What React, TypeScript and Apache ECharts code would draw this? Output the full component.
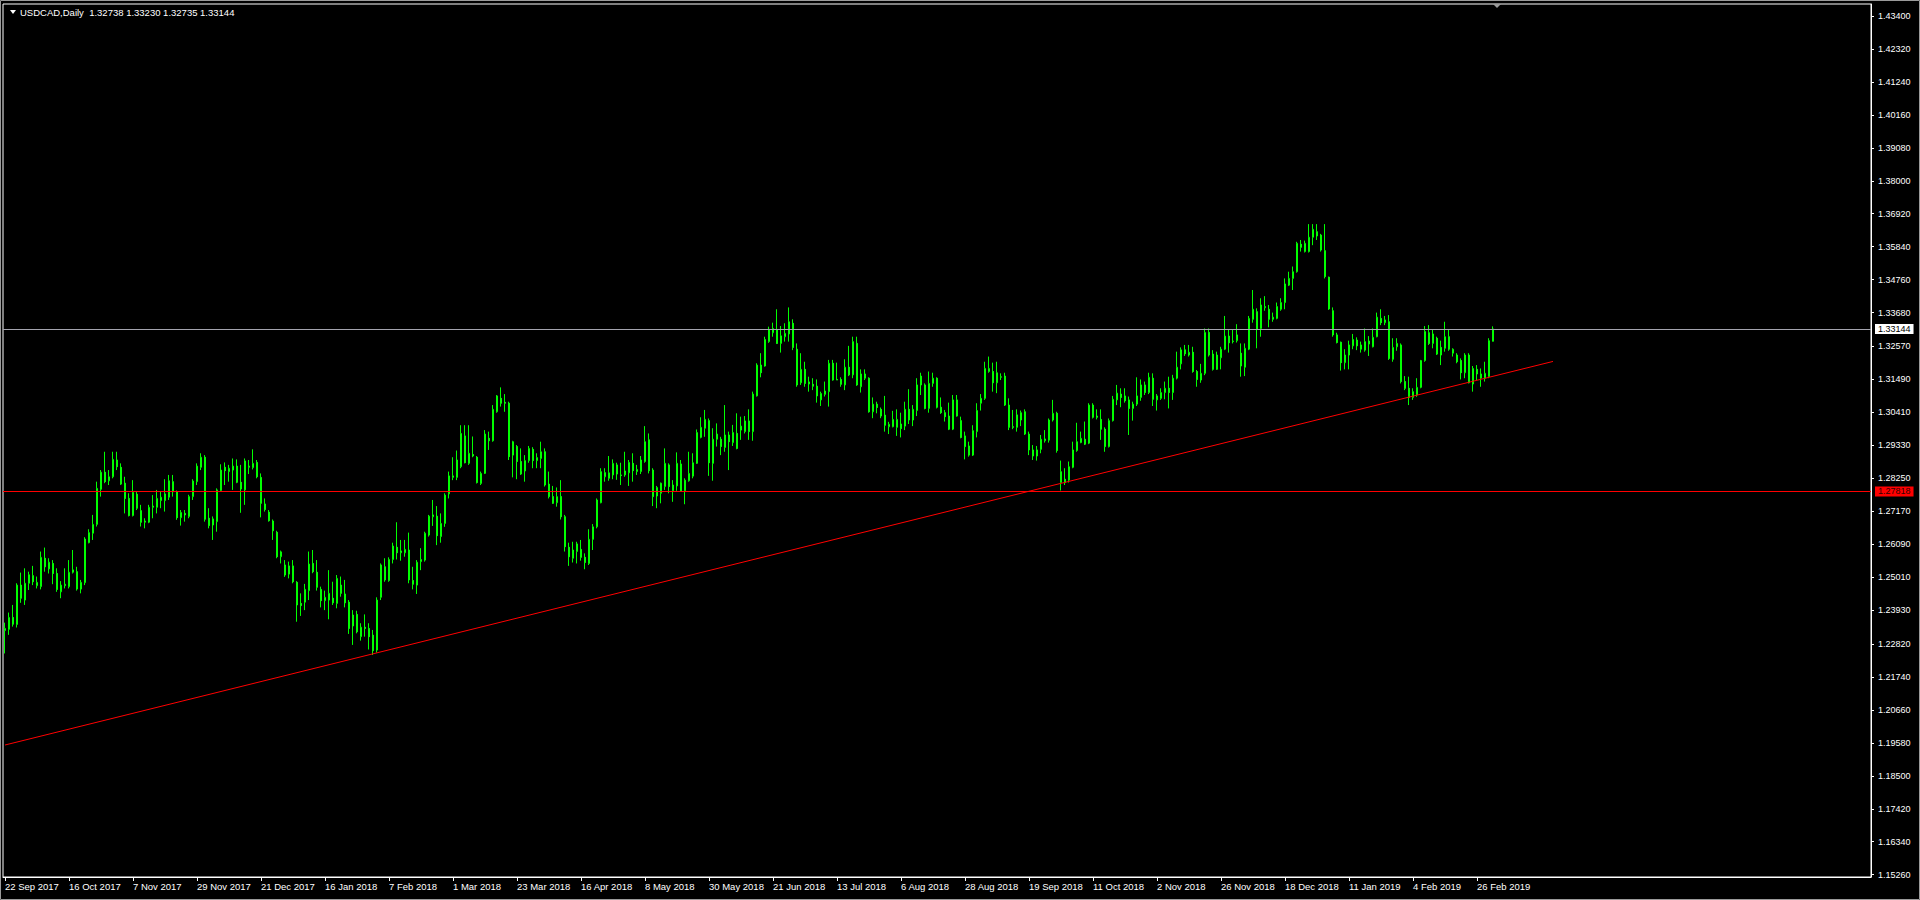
import React, { useEffect, useRef } from "react";
import * as echarts from "echarts";

// ---------- DATA ----------
const symbolTitle = "USDCAD,Daily";
const startDate = [2017, 9, 22]; // first visible bar (y, m, d)
const skippedDays = ["12-25", "01-01"]; // market closed
const totalSlots = 467; // bars that fit in the window incl. chart shift
const labelEvery = 16;

const opens = [
  1.2326,1.2330,1.2369,1.2346,1.2475,1.2426,1.2481,1.2506,1.2473,1.2470,
  1.2563,1.2528,1.2546,1.2513,1.2453,1.2473,1.2470,1.2517,1.2519,1.2462,
  1.2483,1.2614,1.2645,1.2674,1.2789,1.2845,1.2817,1.2830,1.2885,1.2861,
  1.2809,1.2759,1.2703,1.2773,1.2719,1.2681,1.2681,1.2730,1.2730,1.2752,
  1.2752,1.2763,1.2814,1.2781,1.2696,1.2710,1.2700,1.2765,1.2814,1.2861,
  1.2894,1.2694,1.2672,1.2683,1.2785,1.2861,1.2847,1.2852,1.2865,1.2812,
  1.2787,1.2861,1.2860,1.2877,1.2828,1.2741,1.2714,1.2685,1.2648,1.2568,
  1.2541,1.2511,1.2538,1.2484,1.2415,1.2419,1.2457,1.2546,1.2517,1.2461,
  1.2424,1.2426,1.2432,1.2415,1.2475,1.2446,1.2419,1.2341,1.2379,1.2306,
  1.2337,1.2333,1.2311,1.2262,1.2435,1.2535,1.2490,1.2559,1.2599,1.2581,
  1.2581,1.2590,1.2490,1.2475,1.2552,1.2557,1.2639,1.2699,1.2701,1.2634,
  1.2677,1.2774,1.2828,1.2828,1.2863,1.2964,1.2874,1.2903,1.2894,1.2808,
  1.2841,1.2956,1.2948,1.3043,1.3087,1.3074,1.3071,1.2901,1.2929,1.2880,
  1.2849,1.2883,1.2920,1.2883,1.2890,1.2912,1.2806,1.2765,1.2745,1.2765,
  1.2699,1.2599,1.2563,1.2585,1.2592,1.2566,1.2546,1.2625,1.2666,1.2745,
  1.2830,1.2825,1.2836,1.2869,1.2836,1.2836,1.2843,1.2874,1.2847,1.2847,
  1.2880,1.2951,1.2852,1.2767,1.2776,1.2798,1.2869,1.2784,1.2800,1.2872,
  1.2784,1.2817,1.2832,1.2874,1.2959,1.2989,1.3014,1.2874,1.2953,1.2953,
  1.2926,1.2967,1.2942,1.2972,1.2983,1.2978,1.3013,1.2978,1.3095,1.3196,
  1.3193,1.3273,1.3302,1.3311,1.3267,1.3289,1.3298,1.3333,1.3248,1.3138,
  1.3182,1.3141,1.3133,1.3127,1.3082,1.3100,1.3109,1.3202,1.3149,1.3149,
  1.3131,1.3189,1.3164,1.3267,1.3125,1.3153,1.3153,1.3043,1.3068,1.3051,
  1.3032,1.2994,1.2994,1.2992,1.3003,1.2996,1.3051,1.3016,1.3047,1.3160,
  1.3131,1.3054,1.3136,1.3153,1.3058,1.3040,1.3029,1.2986,1.3082,1.3014,
  1.2964,1.2901,1.2901,1.2978,1.3071,1.3087,1.3175,1.3175,1.3138,1.3156,
  1.3160,1.3065,1.2994,1.2992,1.3016,1.3043,1.2970,1.2898,1.2918,1.2920,
  1.2948,1.2950,1.3016,1.3038,1.2811,1.2822,1.2819,1.2861,1.2916,1.2942,
  1.2953,1.2940,1.3065,1.3029,1.3018,1.2986,1.2929,1.3014,1.3082,1.3101,
  1.3095,1.3082,1.3054,1.3068,1.3090,1.3131,1.3106,1.3153,1.3082,1.3087,
  1.3106,1.3120,1.3106,1.3153,1.3200,1.3246,1.3229,1.3238,1.3175,1.3147,
  1.3169,1.3303,1.3232,1.3182,1.3220,1.3248,1.3291,1.3273,1.3276,1.3235,
  1.3189,1.3248,1.3346,1.3371,1.3316,1.3384,1.3379,1.3346,1.3349,1.3379,
  1.3401,1.3458,1.3480,1.3502,1.3592,1.3568,1.3568,1.3615,1.3633,1.3622,
  1.3571,1.3484,1.3374,1.3295,1.3271,1.3204,1.3229,1.3259,1.3278,1.3248,
  1.3245,1.3265,1.3256,1.3289,1.3349,1.3335,1.3338,1.3215,1.3256,1.3262,
  1.3142,1.3120,1.3090,1.3098,1.3123,1.3211,1.3302,1.3267,1.3284,1.3254,
  1.3251,1.3289,1.3235,1.3229,1.3211,1.3171,1.3229,1.3134,1.3182,1.3153,
  1.3153,1.3158,1.32738,
];

const highs = [
  1.2352,1.2385,1.2410,1.2481,1.2516,1.2530,1.2519,1.2538,1.2503,1.2585,
  1.2598,1.2563,1.2557,1.2530,1.2488,1.2530,1.2557,1.2590,1.2535,1.2492,
  1.2632,1.2658,1.2705,1.2814,1.2852,1.2912,1.2852,1.2912,1.2912,1.2874,
  1.2830,1.2776,1.2819,1.2781,1.2738,1.2694,1.2738,1.2770,1.2787,1.2781,
  1.2822,1.2836,1.2836,1.2785,1.2721,1.2721,1.2771,1.2822,1.2874,1.2907,
  1.2901,1.2727,1.2700,1.2792,1.2871,1.2877,1.2869,1.2890,1.2887,1.2869,
  1.2890,1.2885,1.2920,1.2885,1.2841,1.2759,1.2721,1.2690,1.2653,1.2588,
  1.2557,1.2552,1.2557,1.2488,1.2448,1.2479,1.2585,1.2590,1.2557,1.2470,
  1.2457,1.2524,1.2486,1.2508,1.2503,1.2492,1.2426,1.2393,1.2391,1.2350,
  1.2379,1.2350,1.2328,1.2435,1.2546,1.2563,1.2566,1.2614,1.2681,1.2623,
  1.2623,1.2647,1.2535,1.2557,1.2596,1.2650,1.2705,1.2754,1.2734,1.2710,
  1.2776,1.2847,1.2894,1.2916,1.2999,1.2999,1.2999,1.2962,1.2898,1.2847,
  1.2983,1.2978,1.3065,1.3098,1.3123,1.3101,1.3076,1.2948,1.2934,1.2923,
  1.2901,1.2931,1.2927,1.2907,1.2945,1.2923,1.2847,1.2800,1.2795,1.2819,
  1.2705,1.2614,1.2617,1.2617,1.2623,1.2579,1.2658,1.2675,1.2759,1.2858,
  1.2858,1.2898,1.2887,1.2876,1.2876,1.2912,1.2885,1.2907,1.2869,1.2898,
  1.2996,1.2972,1.2858,1.2800,1.2811,1.2923,1.2874,1.2819,1.2910,1.2885,
  1.2825,1.2912,1.2907,1.2985,1.3025,1.3049,1.3021,1.2989,1.3005,1.2961,
  1.3065,1.2978,1.3000,1.3038,1.3027,1.3029,1.3051,1.3109,1.3202,1.3235,
  1.3289,1.3322,1.3335,1.3379,1.3324,1.3333,1.3385,1.3346,1.3267,1.3235,
  1.3207,1.3158,1.3153,1.3149,1.3109,1.3142,1.3213,1.3213,1.3204,1.3156,
  1.3215,1.3259,1.3289,1.3289,1.3182,1.3182,1.3156,1.3090,1.3076,1.3057,
  1.3095,1.3010,1.3046,1.3051,1.3040,1.3076,1.3117,1.3065,1.3153,1.3171,
  1.3136,1.3175,1.3171,1.3156,1.3090,1.3049,1.3073,1.3098,1.3098,1.3027,
  1.2978,1.2945,1.2999,1.3071,1.3101,1.3207,1.3224,1.3204,1.3207,1.3169,
  1.3171,1.3087,1.3049,1.3051,1.3047,1.3051,1.2978,1.2934,1.2931,1.2967,
  1.2983,1.3021,1.3082,1.3043,1.2883,1.2858,1.2880,1.2945,1.3007,1.2978,
  1.3011,1.3071,1.3071,1.3051,1.3051,1.2992,1.3021,1.3095,1.3131,1.3120,
  1.3120,1.3093,1.3076,1.3156,1.3149,1.3142,1.3171,1.3169,1.3101,1.3120,
  1.3142,1.3158,1.3164,1.3240,1.3254,1.3262,1.3262,1.3256,1.3180,1.3200,
  1.3316,1.3316,1.3245,1.3240,1.3256,1.3357,1.3313,1.3311,1.3330,1.3267,
  1.3267,1.3357,1.3442,1.3382,1.3415,1.3422,1.3393,1.3368,1.3401,1.3415,
  1.3480,1.3502,1.3519,1.3600,1.3606,1.3604,1.3658,1.3658,1.3658,1.3626,
  1.3658,1.3486,1.3385,1.3302,1.3273,1.3248,1.3276,1.3298,1.3287,1.3273,
  1.3316,1.3291,1.3316,1.3368,1.3379,1.3357,1.3360,1.3284,1.3284,1.3267,
  1.3160,1.3158,1.3120,1.3153,1.3213,1.3324,1.3327,1.3313,1.3289,1.3276,
  1.3338,1.3311,1.3251,1.3235,1.3218,1.3235,1.3235,1.3193,1.3196,1.3185,
  1.3207,1.3284,1.33230,
];

const lows = [
  1.2251,1.2312,1.2339,1.2336,1.2417,1.2410,1.2459,1.2475,1.2464,1.2461,
  1.2519,1.2513,1.2478,1.2453,1.2432,1.2464,1.2464,1.2513,1.2457,1.2448,
  1.2475,1.2612,1.2623,1.2667,1.2765,1.2809,1.2803,1.2825,1.2852,1.2803,
  1.2710,1.2700,1.2700,1.2721,1.2667,1.2661,1.2678,1.2694,1.2710,1.2727,
  1.2716,1.2754,1.2765,1.2689,1.2670,1.2683,1.2694,1.2754,1.2803,1.2852,
  1.2683,1.2661,1.2623,1.2650,1.2781,1.2803,1.2814,1.2787,1.2809,1.2712,
  1.2738,1.2839,1.2854,1.2825,1.2697,1.2716,1.2683,1.2623,1.2563,1.2546,
  1.2502,1.2497,1.2481,1.2355,1.2374,1.2393,1.2426,1.2514,1.2457,1.2402,
  1.2393,1.2363,1.2410,1.2399,1.2437,1.2402,1.2315,1.2279,1.2317,1.2293,
  1.2306,1.2264,1.2246,1.2254,1.2426,1.2486,1.2486,1.2546,1.2559,1.2555,
  1.2568,1.2481,1.2461,1.2446,1.2524,1.2552,1.2634,1.2669,1.2606,1.2614,
  1.2666,1.2759,1.2819,1.2819,1.2858,1.2874,1.2869,1.2894,1.2808,1.2803,
  1.2839,1.2918,1.2945,1.3040,1.3060,1.3043,1.2885,1.2828,1.2822,1.2836,
  1.2814,1.2876,1.2858,1.2858,1.2858,1.2798,1.2759,1.2741,1.2732,1.2690,
  1.2585,1.2538,1.2549,1.2546,1.2555,1.2527,1.2541,1.2590,1.2661,1.2743,
  1.2814,1.2817,1.2822,1.2820,1.2803,1.2830,1.2800,1.2814,1.2836,1.2839,
  1.2876,1.2841,1.2734,1.2727,1.2743,1.2787,1.2776,1.2748,1.2784,1.2781,
  1.2740,1.2814,1.2825,1.2872,1.2956,1.2961,1.2833,1.2817,1.2929,1.2901,
  1.2912,1.2852,1.2931,1.2920,1.2951,1.2972,1.2951,1.2948,1.3093,1.3156,
  1.3191,1.3269,1.3289,1.3265,1.3237,1.3273,1.3273,1.3245,1.3125,1.3131,
  1.3125,1.3109,1.3114,1.3073,1.3062,1.3093,1.3060,1.3145,1.3147,1.3125,
  1.3114,1.3160,1.3153,1.3128,1.3106,1.3147,1.3040,1.3022,1.3038,1.3022,
  1.2978,1.2970,1.2992,1.2964,1.2959,1.2983,1.3003,1.2996,1.3029,1.3098,
  1.3051,1.3040,1.3125,1.3054,1.3036,1.3011,1.2983,1.2983,1.3027,1.2956,
  1.2887,1.2896,1.2898,1.2959,1.3047,1.3082,1.3171,1.3109,1.3104,1.3147,
  1.3062,1.2983,1.2986,1.2978,1.2996,1.2967,1.2901,1.2885,1.2883,1.2907,
  1.2942,1.2942,1.3011,1.2909,1.2785,1.2803,1.2811,1.2858,1.2912,1.2940,
  1.2934,1.2937,1.3021,1.3018,1.2951,1.2912,1.2926,1.3011,1.3065,1.3058,
  1.3073,1.2967,1.3014,1.3062,1.3079,1.3098,1.3101,1.3062,1.3047,1.3082,
  1.3084,1.3054,1.3082,1.3149,1.3182,1.3226,1.3224,1.3171,1.3125,1.3138,
  1.3163,1.3224,1.3178,1.3180,1.3182,1.3245,1.3237,1.3267,1.3270,1.3158,
  1.3160,1.3245,1.3335,1.3251,1.3289,1.3374,1.3320,1.3338,1.3346,1.3374,
  1.3379,1.3455,1.3442,1.3499,1.3568,1.3565,1.3565,1.3589,1.3606,1.3568,
  1.3480,1.3377,1.3289,1.3267,1.3178,1.3182,1.3182,1.3248,1.3245,1.3237,
  1.3240,1.3226,1.3254,1.3287,1.3327,1.3327,1.3213,1.3207,1.3243,1.3136,
  1.3114,1.3065,1.3082,1.3092,1.3120,1.3207,1.3262,1.3251,1.3229,1.3196,
  1.3240,1.3243,1.3224,1.3202,1.3149,1.3153,1.3136,1.3109,1.3147,1.3125,
  1.3142,1.3153,1.32735,
];

const closes = [
  1.2333,1.2369,1.2347,1.2475,1.2432,1.2481,1.2509,1.2486,1.2484,1.2566,
  1.2535,1.2550,1.2513,1.2461,1.2475,1.2478,1.2517,1.2525,1.2462,1.2484,
  1.2626,1.2647,1.2674,1.2792,1.2845,1.2814,1.2830,1.2887,1.2863,1.2806,
  1.2759,1.2703,1.2779,1.2727,1.2681,1.2685,1.2730,1.2734,1.2759,1.2763,
  1.2774,1.2817,1.2781,1.2696,1.2713,1.2705,1.2765,1.2816,1.2865,1.2894,
  1.2691,1.2670,1.2692,1.2787,1.2852,1.2850,1.2858,1.2865,1.2812,1.2790,
  1.2882,1.2865,1.2874,1.2830,1.2743,1.2723,1.2686,1.2653,1.2568,1.2584,
  1.2508,1.2538,1.2486,1.2410,1.2408,1.2461,1.2544,1.2519,1.2468,1.2424,
  1.2435,1.2448,1.2417,1.2497,1.2448,1.2417,1.2333,1.2377,1.2322,1.2337,
  1.2333,1.2306,1.2260,1.2426,1.2541,1.2492,1.2559,1.2603,1.2581,1.2587,
  1.2592,1.2492,1.2478,1.2550,1.2559,1.2645,1.2701,1.2705,1.2637,1.2677,
  1.2770,1.2833,1.2833,1.2885,1.2972,1.2876,1.2907,1.2898,1.2811,1.2841,
  1.2970,1.2948,1.3051,1.3095,1.3071,1.3071,1.2896,1.2945,1.2880,1.2839,
  1.2883,1.2923,1.2883,1.2893,1.2912,1.2803,1.2765,1.2743,1.2765,1.2699,
  1.2601,1.2568,1.2590,1.2610,1.2566,1.2549,1.2625,1.2666,1.2754,1.2847,
  1.2844,1.2843,1.2874,1.2839,1.2834,1.2849,1.2877,1.2850,1.2854,1.2885,
  1.2945,1.2850,1.2765,1.2795,1.2809,1.2874,1.2798,1.2803,1.2874,1.2784,
  1.2819,1.2841,1.2876,1.2975,1.2992,1.3018,1.2876,1.2953,1.2970,1.2929,
  1.2967,1.2945,1.2975,1.2923,1.2996,1.3013,1.2978,1.3101,1.3196,1.3171,
  1.3280,1.3313,1.3316,1.3267,1.3292,1.3300,1.3338,1.3254,1.3131,1.3182,
  1.3136,1.3134,1.3127,1.3095,1.3103,1.3111,1.3202,1.3147,1.3147,1.3133,
  1.3189,1.3164,1.3273,1.3131,1.3167,1.3167,1.3043,1.3068,1.3057,1.3029,
  1.2999,1.3002,1.3018,1.3018,1.2988,1.3051,1.3016,1.3051,1.3131,1.3131,
  1.3054,1.3136,1.3153,1.3058,1.3040,1.3027,1.2986,1.3082,1.3029,1.2959,
  1.2929,1.2931,1.2981,1.3047,1.3087,1.3185,1.3185,1.3138,1.3171,1.3158,
  1.3065,1.2992,1.2992,1.3033,1.3040,1.2970,1.2918,1.2918,1.2898,1.2953,
  1.2954,1.3016,1.3038,1.2916,1.2847,1.2811,1.2863,1.2918,1.2945,1.2956,
  1.2937,1.3065,1.3025,1.3025,1.2986,1.2929,1.3014,1.3084,1.3104,1.3090,
  1.3079,1.3054,1.3068,1.3095,1.3131,1.3106,1.3156,1.3084,1.3095,1.3106,
  1.3120,1.3106,1.3153,1.3189,1.3246,1.3233,1.3238,1.3175,1.3149,1.3169,
  1.3303,1.3229,1.3182,1.3229,1.3248,1.3291,1.3269,1.3275,1.3295,1.3193,
  1.3251,1.3349,1.3379,1.3313,1.3393,1.3388,1.3346,1.3353,1.3388,1.3401,
  1.3462,1.3480,1.3502,1.3595,1.3582,1.3595,1.3615,1.3641,1.3619,1.3573,
  1.3486,1.3380,1.3295,1.3270,1.3204,1.3229,1.3262,1.3280,1.3259,1.3262,
  1.3273,1.3275,1.3287,1.3353,1.3335,1.3344,1.3218,1.3254,1.3267,1.3142,
  1.3120,1.3090,1.3109,1.3123,1.3211,1.3306,1.3267,1.3298,1.3232,1.3229,
  1.3289,1.3248,1.3248,1.3207,1.3171,1.3229,1.3138,1.3185,1.3167,1.3167,
  1.3169,1.3276,1.33144,
];

const priceTicks = [
  1.434, 1.4232, 1.4124, 1.4016, 1.3908, 1.38, 1.3692, 1.3584, 1.3476,
  1.3368, 1.3257, 1.3149, 1.3041, 1.2933, 1.2825, 1.2717, 1.2609, 1.2501,
  1.2393, 1.2282, 1.2174, 1.2066, 1.1958, 1.185, 1.1742, 1.1634, 1.1526,
];
const yMin = 1.151844;
const yMax = 1.437933;

const bidPrice = 1.33144;
const levelPrice = 1.27818;
const trendLine = [
  [0, 1.1951],
  [387, 1.3208],
];

// ---------- HELPERS ----------
const MONTHS = ["Jan","Feb","Mar","Apr","May","Jun","Jul","Aug","Sep","Oct","Nov","Dec"];
function buildDates(n: number): string[] {
  const out: string[] = [];
  const d = new Date(Date.UTC(startDate[0], startDate[1] - 1, startDate[2]));
  while (out.length < n) {
    const wd = d.getUTCDay();
    const mm = String(d.getUTCMonth() + 1).padStart(2, "0");
    const dd = String(d.getUTCDate()).padStart(2, "0");
    if (wd !== 0 && wd !== 6 && !skippedDays.includes(`${mm}-${dd}`)) {
      out.push(`${d.getUTCDate()} ${MONTHS[d.getUTCMonth()]} ${d.getUTCFullYear()}`);
    }
    d.setUTCDate(d.getUTCDate() + 1);
  }
  return out;
}

const FONT = "'Liberation Sans', Arial, sans-serif";

export default function App() {
  const ref = useRef<HTMLDivElement>(null);

  useEffect(() => {
    if (!ref.current) return;
    const chart = echarts.init(ref.current, null, { renderer: "svg" });
    const barCount = closes.length;
    const dates = buildDates(totalSlots);
    const candles = opens.map((o, i) => [o, closes[i], lows[i], highs[i]]);
    const last = barCount - 1;
    const showLabel = (idx: number) => idx % labelEvery === 0 && idx < barCount;
    const titleText = `${symbolTitle}  ${opens[last].toFixed(5)} ${highs[last].toFixed(5)} ${lows[last].toFixed(5)} ${closes[last].toFixed(5)}`;

    chart.setOption({
      animation: false,
      backgroundColor: "#000000",
      grid: {
        left: 3,
        top: 4,
        width: 1868,
        height: 873,
        show: true,
        borderColor: "#ffffff",
        borderWidth: 1,
        containLabel: false,
      },
      xAxis: {
        type: "category",
        data: dates,
        boundaryGap: true,
        axisLine: { show: true, lineStyle: { color: "#ffffff", width: 1 } },
        axisTick: {
          show: true,
          alignWithLabel: true,
          interval: (idx: number) => showLabel(idx),
          length: 4,
          lineStyle: { color: "#ffffff" },
        },
        axisLabel: {
          show: true,
          interval: (idx: number) => showLabel(idx),
          color: "#ffffff",
          fontSize: 9.5,
          fontFamily: FONT,
          align: "left",
          margin: 4,
        },
        splitLine: { show: false },
      },
      yAxis: {
        type: "value",
        position: "right",
        min: yMin,
        max: yMax,
        scale: true,
        axisLine: { show: true, lineStyle: { color: "#ffffff", width: 1 } },
        axisTick: {
          show: true,
          length: 3,
          customValues: priceTicks,
          lineStyle: { color: "#ffffff" },
        },
        axisLabel: {
          show: true,
          customValues: priceTicks,
          formatter: (v: number) => v.toFixed(5),
          color: "#ffffff",
          fontSize: 9,
          fontFamily: FONT,
          margin: 7,
        },
        splitLine: { show: false },
      },
      series: [
        {
          type: "candlestick",
          data: candles,
          barWidth: 2,
          itemStyle: {
            color: "#000000",
            color0: "#ffffff",
            borderColor: "#00ff00",
            borderColor0: "#00ff00",
            borderWidth: 1,
          },
          silent: true,
        },
        {
          type: "line",
          data: trendLine,
          symbol: "none",
          silent: true,
          lineStyle: { color: "#ff0000", width: 1 },
          z: 5,
          markLine: {
            silent: true,
            symbol: ["none", "none"],
            precision: 5,
            animation: false,
            data: [
              {
                yAxis: bidPrice,
                lineStyle: { color: "#a4a4ae", width: 1, type: "solid" },
                label: {
                  show: true,
                  position: "end",
                  distance: 4,
                  formatter: () => bidPrice.toFixed(5),
                  backgroundColor: "#ffffff",
                  color: "#000000",
                  fontSize: 9,
                  fontFamily: FONT,
                  padding: [1, 3, 0, 3],
                },
              },
              {
                yAxis: levelPrice,
                lineStyle: { color: "#ff0000", width: 1, type: "solid" },
                label: {
                  show: true,
                  position: "end",
                  distance: 4,
                  formatter: () => levelPrice.toFixed(5),
                  backgroundColor: "#ff0000",
                  color: "#300000",
                  fontSize: 9,
                  fontFamily: FONT,
                  padding: [1, 3, 0, 3],
                },
              },
            ],
          },
        },
      ],
      graphic: [
        {
          type: "rect",
          shape: { x: 0.5, y: 0.5, width: 1919, height: 899 },
          style: { fill: "none", stroke: "#9a9a9a", lineWidth: 1 },
          silent: true,
          z: 0,
        },
        {
          type: "polygon",
          shape: { points: [[10, 10], [16, 10], [13, 14]] },
          style: { fill: "#ffffff" },
          silent: true,
          z: 10,
        },
        {
          type: "text",
          x: 20,
          y: 7,
          style: {
            text: titleText,
            fill: "#ffffff",
            font: `9.5px ${FONT}`,
            textVerticalAlign: "top",
          },
          silent: true,
          z: 10,
        },
        {
          type: "polygon",
          shape: { points: [[1493, 4], [1501, 4], [1497, 8]] },
          style: { fill: "#9a9a9a" },
          silent: true,
          z: 10,
        },
      ],
    });

    return () => {
      chart.dispose();
    };
  }, []);

  return (
    <div
      ref={ref}
      style={{
        position: "fixed",
        left: 0,
        top: 0,
        width: 1920,
        height: 900,
        background: "#000000",
      }}
    />
  );
}
